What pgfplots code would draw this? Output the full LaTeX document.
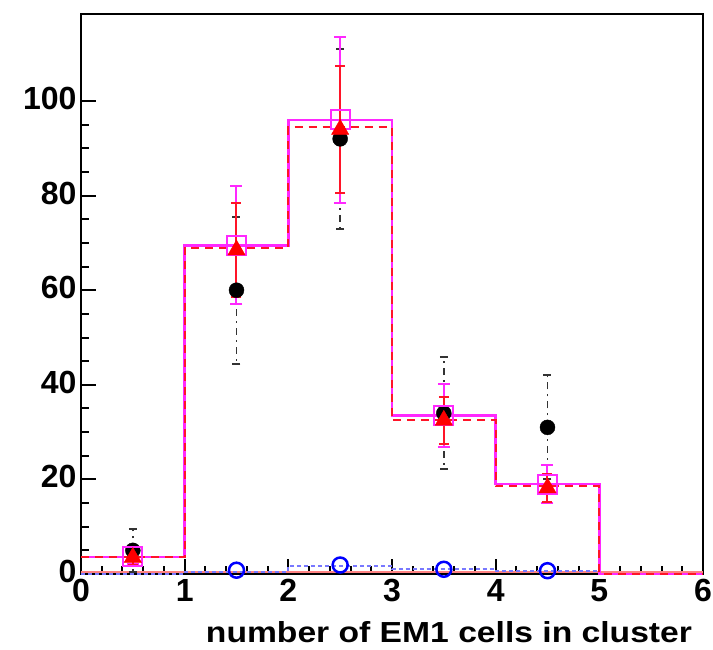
\documentclass[border=0pt]{standalone}
\usepackage{fontspec}
\setmainfont{Liberation Sans}
\usepackage{graphicx}
\usepackage{pgfplots}
\pgfplotsset{compat=1.18}
\definecolor{mymag}{RGB}{255,40,255}
\definecolor{myred}{RGB}{255,20,40}
\definecolor{salmon}{RGB}{255,130,130}
\definecolor{lblue}{RGB}{120,120,255}
\begin{document}
\begin{tikzpicture}
\path[use as bounding box] (-81pt,-76pt) rectangle (632pt,574pt);
\begin{axis}[
  at={(0,0)}, anchor=south west,
  scale only axis, width=622pt, height=560pt,
  xmin=0, xmax=6, ymin=0, ymax=118.4,
  xtick={0,1,2,3,4,5,6}, ytick={0,20,40,60,80,100},
  minor x tick num=4, minor y tick num=3,
  tick align=inside, xtick pos=left, ytick pos=left,
  major tick length=15pt, minor tick length=8pt,
  every tick/.style={black, line width=2pt},
  axis line style={line width=2.5pt, black},
  /pgf/number format/assume math mode=true,
  tick label style={font=\fontsize{32}{32}\selectfont\bfseries},
  yticklabel style={yshift=2.5pt, xshift=-1pt},
  xticklabel style={yshift=-2pt},
  xlabel={\scalebox{1.16}[1]{number of EM1 cells in cluster}},
  xlabel style={font=\fontsize{29}{29}\selectfont\bfseries, at={(axis description cs:0.988,0)}, anchor=base east, yshift=-69pt},
  clip=false,
]
% salmon baseline
\addplot[salmon, line width=2pt] coordinates {(0,0.4) (6,0.4)};
% blue dotted histogram
\addplot[lblue, line width=1.8pt, dash pattern=on 4pt off 3pt, const plot] coordinates {(0,0) (1,0.5) (2,1.7) (3,1.0) (4,0.7) (5,0) (6,0)};
% magenta histogram
\addplot[mymag, line width=2.5pt, const plot] coordinates {(0,3.6) (1,69.5) (2,96) (3,33.5) (4,19) (5,0) (6,0)};
% red dashed histogram
\addplot[myred, line width=2pt, dash pattern=on 8pt off 6pt, const plot] coordinates {(0,3.5) (1,69) (2,94.5) (3,32.5) (4,18.5) (5,0) (6,0)};
% blue circles
\addplot[only marks, mark=o, mark size=7.5pt, blue, mark options={line width=2.5pt}] coordinates {(1.5,0.8) (2.5,1.9) (3.5,1.0) (4.5,0.7)};
% black points
\addplot[only marks, mark=*, mark size=7.5pt, black,
  error bars/.cd, y dir=both, y explicit,
  error bar style={line width=1.5pt, black!80, dash pattern=on 7pt off 5pt on 2pt off 5pt},
  error mark options={rotate=90, mark size=4pt, line width=2pt, solid}]
  table[x=x, y=y, y error=e] {
x y e
0.5 5 4.5
1.5 60 15.5
2.5 92 19
3.5 34 11.8
4.5 31 11
};
% magenta squares
\addplot[only marks, mark=square, mark size=9.5pt, mymag, mark options={line width=2pt},
  error bars/.cd, y dir=both, y explicit,
  error bar style={line width=2pt, mymag},
  error mark options={rotate=90, mark size=6pt, line width=2pt}]
  table[x=x, y=y, y error=e] {
x y e
0.5 3.6 1.5
1.5 69.5 12.5
2.5 96 17.5
3.5 33.5 6.7
4.5 19 4
};
% red triangles
\addplot[only marks, mark=triangle*, mark size=10pt, red,
  error bars/.cd, y dir=both, y explicit,
  error bar style={line width=2pt, myred},
  error mark options={rotate=90, mark size=5pt, line width=2pt}]
  table[x=x, y=y, y error=e] {
x y e
0.5 3.5 1.5
1.5 68.5 10
2.5 94 13.5
3.5 32.5 5
4.5 18.2 3
};
\end{axis}
\end{tikzpicture}
\end{document}
